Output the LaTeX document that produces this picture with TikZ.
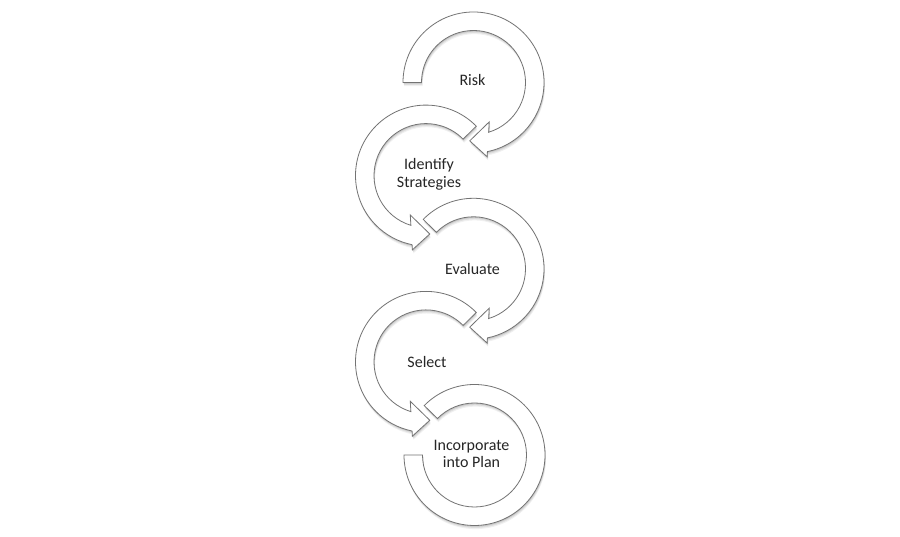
\documentclass[tikz,border=0pt]{standalone}
\usepackage{fontspec}
\setmainfont{Carlito}
\usetikzlibrary{shadows}
\tikzset{
  band/.style={draw=black!55, line width=0.8pt, fill=white, line join=miter,
    drop shadow={shadow xshift=0.5pt, shadow yshift=-1.2pt, opacity=0.10, fill=black},
    drop shadow={shadow xshift=0.8pt, shadow yshift=-2.4pt, opacity=0.08, fill=black},
    drop shadow={shadow xshift=1.0pt, shadow yshift=-3.6pt, opacity=0.06, fill=black}},
  label/.style={align=center, text=black!85, font=\fontsize{16pt}{17.6pt}\selectfont, inner sep=0pt}
}
\newcommand{\cwarrow}[1]{%
  \draw[band] (#1:70.5pt) arc[start angle=#1, end angle=-78.6, radius=70.5pt]
    -- (-79.6:75.5pt) -- (-93.7:58.5pt) -- (-68.2:42.4pt) -- (-73.1:52pt)
    arc[start angle=-73.1, end angle=#1, radius=52pt] -- cycle;}
\newcommand{\ccwarrow}[1]{%
  \draw[band] (#1:70.5pt) arc[start angle=#1, end angle=258.6, radius=70.5pt]
    -- (259.6:75.5pt) -- (273.7:58.5pt) -- (248.2:42.4pt) -- (253.1:52pt)
    arc[start angle=253.1, end angle=#1, radius=52pt] -- cycle;}
\begin{document}
\begin{tikzpicture}[x=1pt,y=1pt]
\useasboundingbox[fill=white] (0,0) rectangle (900,537);
\coordinate (c1) at (473.5,454.5);
\coordinate (c2) at (426,361.4);
\coordinate (c3) at (473.5,268.2);
\coordinate (c4) at (426,175.1);
\coordinate (c5) at (474.5,82);
\begin{scope}[shift={(c1)}]\cwarrow{180}\end{scope}
\begin{scope}[shift={(c2)}]\ccwarrow{44.5}\end{scope}
\begin{scope}[shift={(c3)}]\cwarrow{135.5}\end{scope}
\begin{scope}[shift={(c4)}]\ccwarrow{44.5}\end{scope}
\begin{scope}[shift={(c5)}]
  \draw[band] (135.5:70.5pt) arc[start angle=135.5, end angle=-180, radius=70.5pt]
    -- (-180:52pt) arc[start angle=-180, end angle=135.5, radius=52pt] -- cycle;
\end{scope}
\node[label] (t1) at ([xshift=-1pt,yshift=2pt]c1) {Risk};
\node[label] (t2) at ([xshift=3pt,yshift=1pt]c2) {Identify\\Strategies};
\node[label] (t3) at ([xshift=-1pt,yshift=0pt]c3) {Evaluate};
\node[label] (t4) at ([xshift=1pt,yshift=0pt]c4) {Select};
\node[label] (t5) at ([xshift=-3pt,yshift=1pt]c5) {Incorporate\\into Plan};
\end{tikzpicture}
\end{document}
